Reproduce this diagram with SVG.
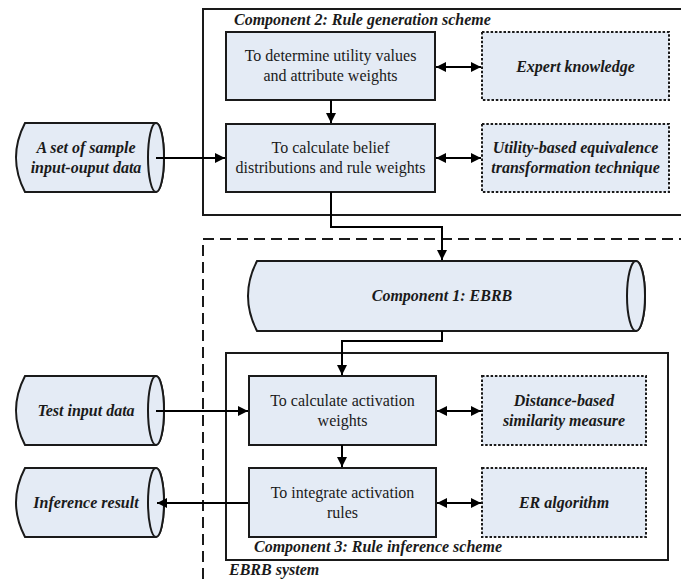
<svg xmlns="http://www.w3.org/2000/svg" width="681" height="581" viewBox="0 0 681 581">
<style>
.box{fill:#E4EBF5;stroke:#1a1a1a;stroke-width:2}
.dot{fill:#E4EBF5;stroke:#1a1a1a;stroke-width:2;stroke-dasharray:2.5,1.8}
.frame{fill:none;stroke:#1a1a1a;stroke-width:2}
.dash{fill:none;stroke:#1a1a1a;stroke-width:2;stroke-dasharray:11,6}
.t{font-family:"Liberation Serif","Times New Roman",serif;font-size:16px;fill:#1a1a1a;text-anchor:middle}
.bi{font-family:"Liberation Serif","Times New Roman",serif;font-size:16px;font-weight:bold;font-style:italic;fill:#1a1a1a}
.c{text-anchor:middle}
.ln{fill:none;stroke:#000;stroke-width:2}
</style>
<defs>
<marker id="ah" markerUnits="userSpaceOnUse" markerWidth="11" markerHeight="10" refX="10" refY="5" orient="auto-start-reverse" viewBox="0 0 10 10">
<path d="M0,0 L10,5 L0,10 Z" fill="#000"/>
</marker>
</defs>

<g id="component2">
<rect class="frame" x="203" y="9" width="490" height="206"/>
<text class="bi" x="234" y="25">Component 2: Rule generation scheme</text>
</g>
<g id="ebrb-system">
<rect class="dash" x="203" y="239" width="490" height="360"/>
<text class="bi" x="229" y="575">EBRB system</text>
</g>
<g id="component3">
<rect class="frame" x="226" y="353" width="442" height="207"/>
<text class="bi" x="254" y="552">Component 3: Rule inference scheme</text>
</g>

<g id="determine">
<rect class="box" x="226" y="32" width="209" height="68"/>
<text class="t" x="330.5" y="61">To determine utility values</text>
<text class="t" x="330.5" y="81">and attribute weights</text>
</g>
<g id="expert">
<rect class="dot" x="482" y="32" width="187" height="68"/>
<text class="bi c" x="575.5" y="72">Expert knowledge</text>
</g>
<g id="belief">
<rect class="box" x="226" y="124" width="209" height="68"/>
<text class="t" x="330.5" y="153">To calculate belief</text>
<text class="t" x="330.5" y="173">distributions and rule weights</text>
</g>
<g id="utility">
<rect class="dot" x="482" y="124" width="187" height="68"/>
<text class="bi c" x="575.5" y="153">Utility-based equivalence</text>
<text class="bi c" x="575.5" y="173">transformation technique</text>
</g>
<g id="sample">
<path class="box" d="M25,123 L156,123 A8,34.5 0 0 1 156,192 L25,192 Q7,157.5 25,123 Z"/>
<ellipse class="box" cx="156" cy="157.5" rx="8" ry="34.5"/>
<text class="bi c" x="86" y="153">A set of sample</text>
<text class="bi c" x="86" y="173">input-ouput data</text>
</g>
<g id="ebrb">
<path class="box" d="M257,261 L636,261 A9,35 0 0 1 636,331 L257,331 Q239,296 257,261 Z"/>
<ellipse class="box" cx="636" cy="296" rx="9" ry="35"/>
<text class="bi c" x="442" y="301">Component 1: EBRB</text>
</g>
<g id="activation">
<rect class="box" x="249" y="376" width="187" height="69"/>
<text class="t" x="342.5" y="405.5">To calculate activation</text>
<text class="t" x="342.5" y="425.5">weights</text>
</g>
<g id="distance">
<rect class="dot" x="482" y="376" width="164" height="69"/>
<text class="bi c" x="564" y="405.5">Distance-based</text>
<text class="bi c" x="564" y="425.5">similarity measure</text>
</g>
<g id="integrate">
<rect class="box" x="249" y="468" width="187" height="69"/>
<text class="t" x="342.5" y="497.5">To integrate activation</text>
<text class="t" x="342.5" y="517.5">rules</text>
</g>
<g id="er">
<rect class="dot" x="482" y="468" width="164" height="69"/>
<text class="bi c" x="564" y="508">ER algorithm</text>
</g>
<g id="test">
<path class="box" d="M25,376 L156,376 A8,34.5 0 0 1 156,445 L25,445 Q7,410.5 25,376 Z"/>
<ellipse class="box" cx="156" cy="410.5" rx="8" ry="34.5"/>
<text class="bi c" x="86" y="416">Test input data</text>
</g>
<g id="result">
<path class="box" d="M25,468 L156,468 A8,34.5 0 0 1 156,537 L25,537 Q7,502.5 25,468 Z"/>
<ellipse class="box" cx="156" cy="502.5" rx="8" ry="34.5"/>
<text class="bi c" x="86" y="508">Inference result</text>
</g>

<g id="connectors">
<path class="ln" d="M331,100 L331,123" marker-end="url(#ah)"/>
<path class="ln" d="M436,67 L481,67" marker-start="url(#ah)" marker-end="url(#ah)"/>
<path class="ln" d="M436,158 L481,158" marker-start="url(#ah)" marker-end="url(#ah)"/>
<path class="ln" d="M156,158 L225,158" marker-end="url(#ah)"/>
<path class="ln" d="M331,192 L331,227 L442,227 L442,260" marker-end="url(#ah)"/>
<path class="ln" d="M442,331 L442,341 L342,341 L342,375" marker-end="url(#ah)"/>
<path class="ln" d="M156,411 L248,411" marker-end="url(#ah)"/>
<path class="ln" d="M342,445 L342,467" marker-end="url(#ah)"/>
<path class="ln" d="M437,411 L481,411" marker-start="url(#ah)" marker-end="url(#ah)"/>
<path class="ln" d="M437,503 L481,503" marker-start="url(#ah)" marker-end="url(#ah)"/>
<path class="ln" d="M248,503 L157,503" marker-end="url(#ah)"/>
</g>
</svg>
